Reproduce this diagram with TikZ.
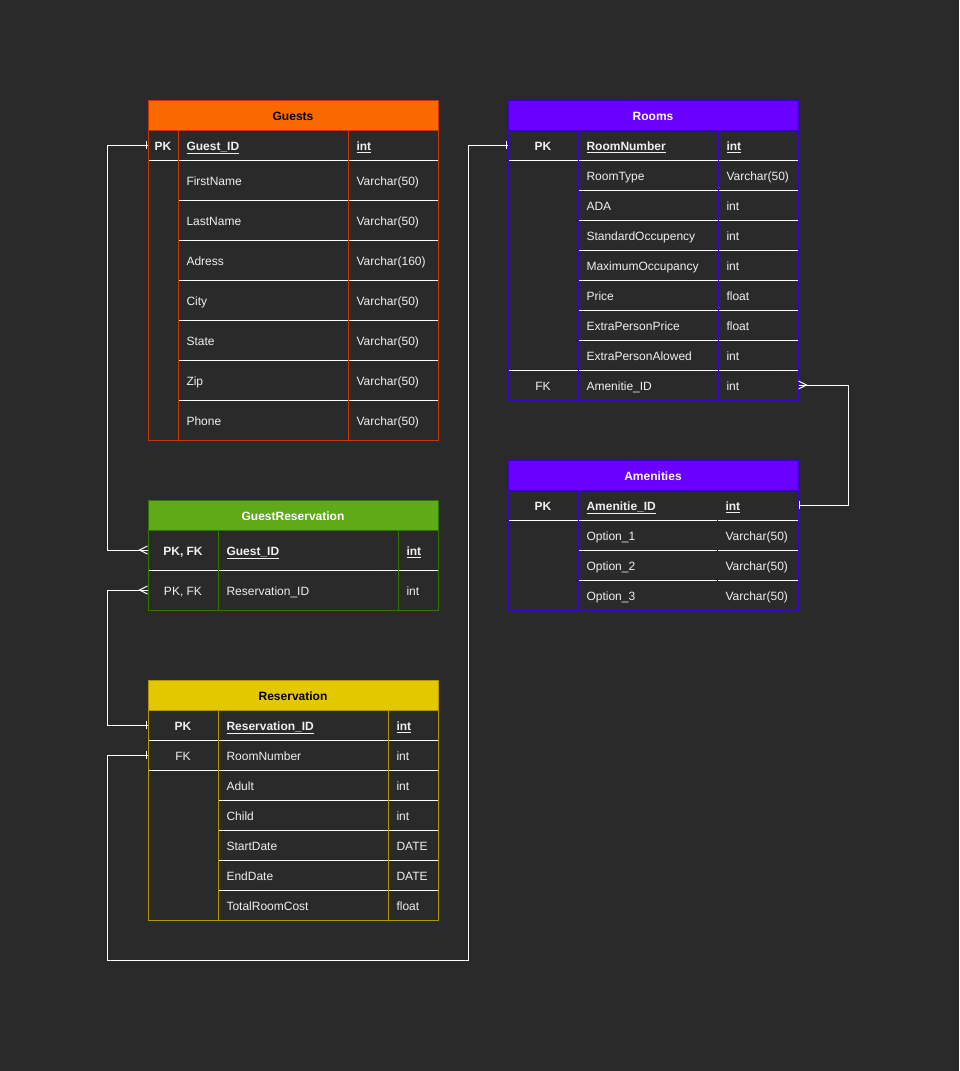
\documentclass[tikz,border=0pt]{standalone}
\usepackage{fontspec}
\setmainfont{Liberation Sans}
\definecolor{bgc}{HTML}{2A2A2A}
\definecolor{fg}{HTML}{F0F0F0}
\definecolor{orgfill}{HTML}{FA6800}
\definecolor{orgline}{HTML}{C73500}
\definecolor{grnfill}{HTML}{60A917}
\definecolor{grnline}{HTML}{2D7600}
\definecolor{vltfill}{HTML}{6A00FF}
\definecolor{vltline}{HTML}{3700CC}
\definecolor{ylwfill}{HTML}{E3C800}
\definecolor{ylwline}{HTML}{B09500}
\newcommand{\cellfont}{\fontsize{12}{14}\selectfont}
\tikzset{
  fld/.style={inner sep=0pt, anchor=west, text=fg, font=\cellfont, text height=10.6pt, text depth=0pt},
  pfld/.style={fld, font=\cellfont\bfseries},
  key/.style={fld, anchor=center},
  pkey/.style={key, font=\cellfont\bfseries},
  title/.style={key, font=\cellfont\bfseries},
  row/.style={inner sep=0pt, minimum width=290pt, minimum height=30pt},
  sep/.style={white, line width=1pt},
  conn/.style={white, line width=1pt},
}
\begin{document}
\begin{tikzpicture}[x=1pt, y=-1pt, line width=1pt]
\useasboundingbox (0,0) rectangle (959,1071);
\fill[bgc] (0,0) rectangle (959,1071);

\fill[orgfill] (148,100) rectangle (438,130);
\draw[sep] (148,160) -- (438,160);
\draw[sep] (178,200) -- (438,200);
\draw[sep] (178,240) -- (438,240);
\draw[sep] (178,280) -- (438,280);
\draw[sep] (178,320) -- (438,320);
\draw[sep] (178,360) -- (438,360);
\draw[sep] (178,400) -- (438,400);
\draw[orgline] (148,100) rectangle (438,440);
\draw[orgline] (148,130) -- (438,130);
\draw[orgline] (178,130) -- (178,440);
\draw[orgline] (348,130) -- (348,440);
\node[row] (guestPK) at (293,145) {};
\node[title, text=black] (gstT) at (293,115) {Guests};
\node[pkey] (gstK0) at (163,145) {PK};
\node[pfld] (gstN0) at (186,145) {\underline{Guest\_ID}};
\node[pfld] (gstY0) at (356,145) {\underline{int}};
\node[fld] (gstN1) at (186,180) {FirstName};
\node[fld] (gstY1) at (356,180) {Varchar(50)};
\node[fld] (gstN2) at (186,220) {LastName};
\node[fld] (gstY2) at (356,220) {Varchar(50)};
\node[fld] (gstN3) at (186,260) {Adress};
\node[fld] (gstY3) at (356,260) {Varchar(160)};
\node[fld] (gstN4) at (186,300) {City};
\node[fld] (gstY4) at (356,300) {Varchar(50)};
\node[fld] (gstN5) at (186,340) {State};
\node[fld] (gstY5) at (356,340) {Varchar(50)};
\node[fld] (gstN6) at (186,380) {Zip};
\node[fld] (gstY6) at (356,380) {Varchar(50)};
\node[fld] (gstN7) at (186,420) {Phone};
\node[fld] (gstY7) at (356,420) {Varchar(50)};

\fill[vltfill] (508,100) rectangle (798,130);
\draw[sep] (508,160) -- (798,160);
\draw[sep] (578,190) -- (798,190);
\draw[sep] (578,220) -- (798,220);
\draw[sep] (578,250) -- (798,250);
\draw[sep] (578,280) -- (798,280);
\draw[sep] (578,310) -- (798,310);
\draw[sep] (578,340) -- (798,340);
\draw[sep] (508,370) -- (798,370);
\draw[vltline] (508,100) rectangle (798,400);
\draw[vltline] (508,130) -- (798,130);
\draw[vltline] (578,130) -- (578,400);
\draw[vltline] (718,130) -- (718,400);
\node[row] (roomPK) at (653,145) {};
\node[row] (roomFK) at (653,385) {};
\node[title, text=white] (rmT) at (653,115) {Rooms};
\node[pkey] (rmK0) at (543,145) {PK};
\node[pfld] (rmN0) at (586,145) {\underline{RoomNumber}};
\node[pfld] (rmY0) at (726,145) {\underline{int}};
\node[fld] (rmN1) at (586,175) {RoomType};
\node[fld] (rmY1) at (726,175) {Varchar(50)};
\node[fld] (rmN2) at (586,205) {ADA};
\node[fld] (rmY2) at (726,205) {int};
\node[fld] (rmN3) at (586,235) {StandardOccupency};
\node[fld] (rmY3) at (726,235) {int};
\node[fld] (rmN4) at (586,265) {MaximumOccupancy};
\node[fld] (rmY4) at (726,265) {int};
\node[fld] (rmN5) at (586,295) {Price};
\node[fld] (rmY5) at (726,295) {float};
\node[fld] (rmN6) at (586,325) {ExtraPersonPrice};
\node[fld] (rmY6) at (726,325) {float};
\node[fld] (rmN7) at (586,355) {ExtraPersonAlowed};
\node[fld] (rmY7) at (726,355) {int};
\node[key] (rmK8) at (543,385) {FK};
\node[fld] (rmN8) at (586,385) {Amenitie\_ID};
\node[fld] (rmY8) at (726,385) {int};

\fill[vltfill] (508,460) rectangle (798,490);
\draw[sep] (508,520) -- (798,520);
\draw[sep] (578,550) -- (798,550);
\draw[sep] (578,580) -- (798,580);
\draw[vltline] (508,460) rectangle (798,610);
\draw[vltline] (508,490) -- (798,490);
\draw[vltline] (578,490) -- (578,610);
\draw[vltline] (717,490) -- (717,610);
\node[row] (amenPK) at (653,505) {};
\node[title, text=white] (amT) at (653,475) {Amenities};
\node[pkey] (amK0) at (543,505) {PK};
\node[pfld] (amN0) at (586,505) {\underline{Amenitie\_ID}};
\node[pfld] (amY0) at (725,505) {\underline{int}};
\node[fld] (amN1) at (586,535) {Option\_1};
\node[fld] (amY1) at (725,535) {Varchar(50)};
\node[fld] (amN2) at (586,565) {Option\_2};
\node[fld] (amY2) at (725,565) {Varchar(50)};
\node[fld] (amN3) at (586,595) {Option\_3};
\node[fld] (amY3) at (725,595) {Varchar(50)};

\fill[grnfill] (148,500) rectangle (438,530);
\draw[sep] (148,570) -- (438,570);
\draw[grnline] (148,500) rectangle (438,610);
\draw[grnline] (148,530) -- (438,530);
\draw[grnline] (218,530) -- (218,610);
\draw[grnline] (398,530) -- (398,610);
\node[row] (grGuest) at (293,550) {};
\node[row] (grRes) at (293,590) {};
\node[title, text=white] (grT) at (293,515) {GuestReservation};
\node[pkey] (grK0) at (183,550) {PK, FK};
\node[pfld] (grN0) at (226,550) {\underline{Guest\_ID}};
\node[pfld] (grY0) at (406,550) {\underline{int}};
\node[key] (grK1) at (183,590) {PK, FK};
\node[fld] (grN1) at (226,590) {Reservation\_ID};
\node[fld] (grY1) at (406,590) {int};

\fill[ylwfill] (148,680) rectangle (438,710);
\draw[sep] (148,740) -- (438,740);
\draw[sep] (148,770) -- (438,770);
\draw[sep] (218,800) -- (438,800);
\draw[sep] (218,830) -- (438,830);
\draw[sep] (218,860) -- (438,860);
\draw[sep] (218,890) -- (438,890);
\draw[ylwline] (148,680) rectangle (438,920);
\draw[ylwline] (148,710) -- (438,710);
\draw[ylwline] (218,710) -- (218,920);
\draw[ylwline] (388,710) -- (388,920);
\node[row] (resPK) at (293,725) {};
\node[row] (resFK) at (293,755) {};
\node[title, text=black] (rsT) at (293,695) {Reservation};
\node[pkey] (rsK0) at (183,725) {PK};
\node[pfld] (rsN0) at (226,725) {\underline{Reservation\_ID}};
\node[pfld] (rsY0) at (396,725) {\underline{int}};
\node[key] (rsK1) at (183,755) {FK};
\node[fld] (rsN1) at (226,755) {RoomNumber};
\node[fld] (rsY1) at (396,755) {int};
\node[fld] (rsN2) at (226,785) {Adult};
\node[fld] (rsY2) at (396,785) {int};
\node[fld] (rsN3) at (226,815) {Child};
\node[fld] (rsY3) at (396,815) {int};
\node[fld] (rsN4) at (226,845) {StartDate};
\node[fld] (rsY4) at (396,845) {DATE};
\node[fld] (rsN5) at (226,875) {EndDate};
\node[fld] (rsY5) at (396,875) {DATE};
\node[fld] (rsN6) at (226,905) {TotalRoomCost};
\node[fld] (rsY6) at (396,905) {float};

\coordinate (loopB) at (468,960);
\draw[conn] (guestPK.west) -- ++(-40,0) |- (grGuest.west);
\draw[conn] (resPK.west) -- ++(-40,0) |- (grRes.west);
\draw[conn] (resFK.west) -- ++(-40,0) |- (loopB) |- (roomPK.west);
\draw[conn] (roomFK.east) -- ++(50,0) |- (amenPK.east);
\draw[conn] ([xshift=-1.5pt,yshift=4pt]guestPK.west) -- ([xshift=-1.5pt,yshift=-4pt]guestPK.west);
\draw[conn] ([xshift=-1.5pt,yshift=4pt]resPK.west) -- ([xshift=-1.5pt,yshift=-4pt]resPK.west);
\draw[conn] ([xshift=-1.5pt,yshift=4pt]resFK.west) -- ([xshift=-1.5pt,yshift=-4pt]resFK.west);
\draw[conn] ([xshift=-1pt,yshift=4pt]roomPK.west) -- ([xshift=-1pt,yshift=-4pt]roomPK.west);
\draw[conn] ([xshift=1pt,yshift=4pt]amenPK.east) -- ([xshift=1pt,yshift=-4pt]amenPK.east);
\draw[conn] ([yshift=4pt]grGuest.west) -- ([xshift=-8pt]grGuest.west) -- ([yshift=-4pt]grGuest.west);
\draw[conn] ([yshift=4pt]grRes.west) -- ([xshift=-8pt]grRes.west) -- ([yshift=-4pt]grRes.west);
\draw[conn] ([yshift=4pt]roomFK.east) -- ([xshift=8pt]roomFK.east) -- ([yshift=-4pt]roomFK.east);
\end{tikzpicture}
\end{document}
